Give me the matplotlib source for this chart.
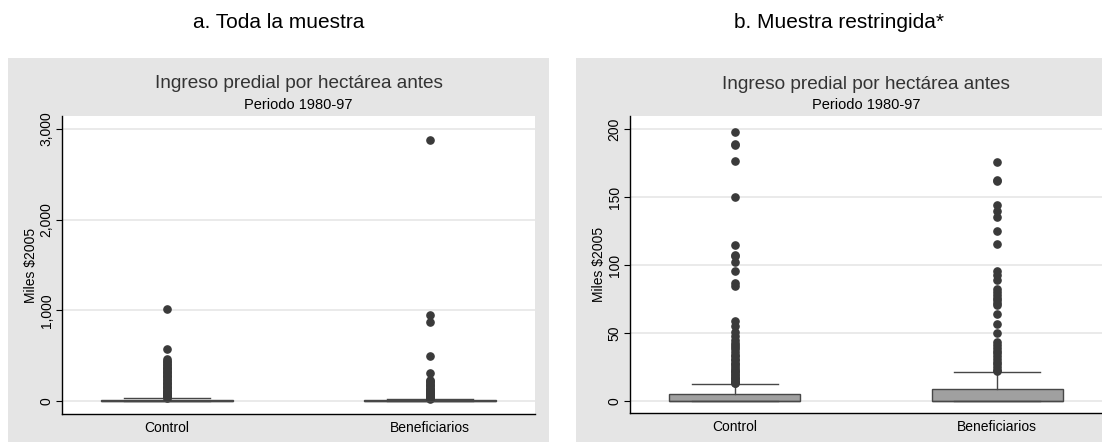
import matplotlib
matplotlib.use("Agg")
import matplotlib.pyplot as plt
from matplotlib.patches import Rectangle

plt.rcParams['font.family'] = ['Liberation Sans', 'DejaVu Sans']

# ---------------- data ----------------
categories = ["Control", "Beneficiarios"]
panel_titles = ["a. Toda la muestra", "b. Muestra restringida*"]
chart_title = "Ingreso predial por hectárea antes"
chart_subtitle = "Periodo 1980-97"
y_label = "Miles $2005"

# Panel a: full sample (box summary + outliers)
full_q1 = [0, 0]
full_med = [1, 1]
full_q3 = [10, 9]
full_whislo = [0, 0]
full_whishi = [30, 22]
full_fliers_control = [1018, 574, 463, 445, 426, 410, 395, 380, 365, 350, 335, 320,
                       305, 290, 275, 260, 245, 230, 215, 200, 185, 170, 155, 140,
                       125, 110, 100, 90, 80, 70, 60, 50, 40, 35]
full_fliers_benef = [2878, 944, 870, 494, 304, 233, 220, 205, 190, 176, 162, 145,
                     135, 125, 115, 100, 90, 80, 70, 60, 50, 40, 30, 25]
full_yticks = [0, 1000, 2000, 3000]
full_yticklabels = ["0", "1,000", "2,000", "3,000"]

# Panel b: restricted sample
res_q1 = [0, 0]
res_med = [0, 0]
res_q3 = [5.5, 8.5]
res_whislo = [0, 0]
res_whishi = [12.6, 21.2]
res_fliers_control = [197.8, 188.7, 188.0, 176.7, 149.9, 114.7, 107.6, 106.5, 102.5,
                      95.3, 86.5, 84.8, 58.5, 55.0, 51.1, 47.5, 44.7, 43.0, 41.0,
                      39.5, 38.0, 36.0, 34.0, 33.0, 31.0, 30.0, 28.0, 27.0, 25.5,
                      24.0, 23.0, 22.0, 21.0, 20.0, 19.0, 18.0, 17.0, 16.0, 15.0,
                      14.0, 13.5, 13.0]
res_fliers_benef = [175.7, 162.2, 161.5, 144.5, 139.6, 135.1, 125.1, 115.7, 95.3, 93.0,
                    88.7, 82.5, 80.0, 78.0, 76.0, 74.0, 72.0, 70.3, 64.1, 56.8, 50.1,
                    43.2, 41.0, 39.0, 37.0, 35.0, 33.0, 31.0, 29.0, 27.0, 25.0, 23.0,
                    22.4]
res_yticks = [0, 50, 100, 150, 200]
res_yticklabels = ["0", "50", "100", "150", "200"]

# ---------------- style ----------------
W, H = 1102, 443
fig = plt.figure(figsize=(W / 100, H / 100), dpi=100)
fig.patch.set_facecolor("white")

bg = "#e5e5e5"
box_fill = "#a0a0a0"
edge = "#474747"
dot = "#3a3a3a"
grid_c = "#e6e6e6"

def px(x0, y0, x1, y1):
    return [x0 / W, 1 - y1 / H, (x1 - x0) / W, (y1 - y0) / H]

# gray panel backgrounds
for (x0, x1) in [(8, 549), (576, 1102)]:
    fig.patches.append(Rectangle((x0 / W, 1 - 442 / H), (x1 - x0) / W, (442 - 58) / H,
                                 transform=fig.transFigure, facecolor=bg,
                                 edgecolor="none", zorder=-10))

panels = [
    dict(rect=px(62, 116, 535, 414), ylim=(-143, 3143),
         q1=full_q1, med=full_med, q3=full_q3, wlo=full_whislo, whi=full_whishi,
         fliers=[full_fliers_control, full_fliers_benef],
         yticks=full_yticks, yticklabels=full_yticklabels, title=panel_titles[0],
         tx=(8 + 549) / 2),
    dict(rect=px(630, 116, 1102, 413), ylim=(-8.8, 209.6),
         q1=res_q1, med=res_med, q3=res_q3, wlo=res_whislo, whi=res_whishi,
         fliers=[res_fliers_control, res_fliers_benef],
         yticks=res_yticks, yticklabels=res_yticklabels, title=panel_titles[1],
         tx=(576 + 1102) / 2),
]

for p in panels:
    ax = fig.add_axes(p["rect"], zorder=1)
    ax.set_facecolor("white")
    stats = []
    for i, name in enumerate(categories):
        stats.append(dict(label=name, q1=p["q1"][i], med=p["med"][i], q3=p["q3"][i],
                          whislo=p["wlo"][i], whishi=p["whi"][i],
                          fliers=p["fliers"][i]))
    ax.bxp(stats, positions=[0, 1], widths=0.5, capwidths=0.33, patch_artist=True,
           boxprops=dict(facecolor=box_fill, edgecolor=edge, linewidth=1.0),
           medianprops=dict(color=edge, linewidth=1.0),
           whiskerprops=dict(color=edge, linewidth=1.0),
           capprops=dict(color=edge, linewidth=1.0),
           flierprops=dict(marker="o", markersize=5.2, markerfacecolor=dot,
                           markeredgecolor=dot, linestyle="none"),
           zorder=3)
    ax.set_xlim(-0.4, 1.4)
    ax.set_ylim(*p["ylim"])
    ax.set_yticks(p["yticks"])
    ax.set_yticklabels(p["yticklabels"], rotation=90, va="center", fontsize=10)
    ax.set_xticks([0, 1])
    ax.set_xticklabels(categories, fontsize=10)
    ax.tick_params(axis="x", length=0, pad=5)
    ax.tick_params(axis="y", length=4, width=0.8, pad=2)
    ax.yaxis.grid(True, color=grid_c, linewidth=1.2, zorder=0)
    ax.set_axisbelow(True)
    for s in ["top", "right"]:
        ax.spines[s].set_visible(False)
    for s in ["left", "bottom"]:
        ax.spines[s].set_color("black")
        ax.spines[s].set_linewidth(1.0)
    ax.set_ylabel(y_label, fontsize=10, labelpad=1)
    # chart titles centred over plot region
    ax.text(0.5, 1 + (116 - 84) / (414 - 116), chart_title, transform=ax.transAxes,
            ha="center", va="center", fontsize=13.7, color="#333333")
    ax.text(0.5, 1 + (116 - 105) / (414 - 116), chart_subtitle, transform=ax.transAxes,
            ha="center", va="center", fontsize=10.5, color="black")
    fig.text(p["tx"] / W, 1 - 22 / H, p["title"], ha="center", va="center",
             fontsize=15, color="black")

fig.savefig("out.png", dpi=100, facecolor=fig.get_facecolor())
